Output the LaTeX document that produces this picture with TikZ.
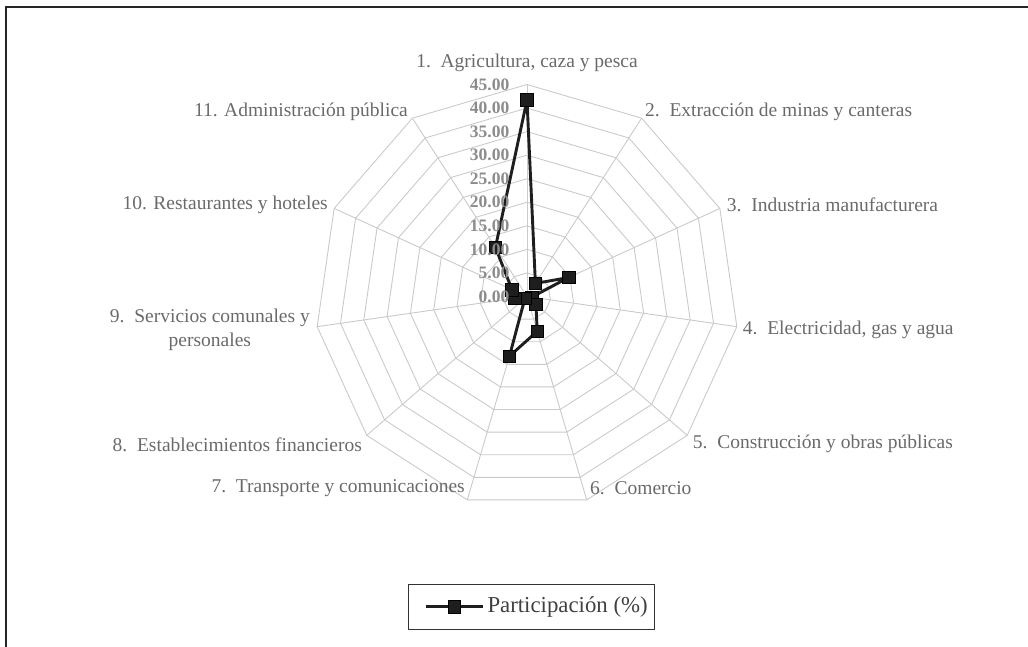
\documentclass[tikz,border=0pt]{standalone}
\usepackage{fontspec}
\setmainfont{Liberation Serif}
\usetikzlibrary{positioning}
\definecolor{gridgray}{HTML}{CACACA}
\definecolor{labelgray}{HTML}{6A6A6A}
\definecolor{tickgray}{HTML}{8C8C8C}
\definecolor{seriesblack}{HTML}{1E1E1E}
\tikzset{
    every node/.style={inner sep=0pt, text=labelgray,
    	font=\fontsize{19.5}{23.4}\selectfont}
}
\tikzset{
    gridline/.style={draw=gridgray, line width=0.9pt},
    ticklabel/.style={anchor=east, text=tickgray,
    	font=\fontsize{17.5}{20}\selectfont\bfseries},
    catlabel/.style={align=center},
    series/.style={draw=seriesblack, line width=2.9pt, line join=round},
    datapt/.style={rectangle, fill=seriesblack, draw=black, line width=0.6pt,
    	minimum size=12.5pt}
}

\begin{document}
\begin{tikzpicture}[x=1pt,y=-1pt]
	\useasboundingbox (0,0) rectangle (1028,647);
	% frame
	\draw[black!85, line width=1.4pt] (1040,7) -- (6,7) -- (6,660);

	\begin{scope}[shift={(527,296.5)}]
	% grid
	\foreach \r in {1,...,9}
		\draw[gridline] (-90:\r*23.556)
			\foreach \k in {1,...,10} { -- (\k*32.7273-90:\r*23.556) } -- cycle;
	\foreach \k in {0,...,10}
		\draw[gridline] (0,0) -- (\k*32.7273-90:212);

	% data
	\coordinate (c1) at (-90:41.7*4.7111);
	\coordinate (c2) at (1*32.7273-90:3.3*4.7111);
	\coordinate (c3) at (2*32.7273-90:9.7*4.7111);
	\coordinate (c4) at (3*32.7273-90:1.0*4.7111);
	\coordinate (c5) at (4*32.7273-90:2.5*4.7111);
	\coordinate (c6) at (5*32.7273-90:7.7*4.7111);
	\coordinate (c7) at (6*32.7273-90:13.2*4.7111);
	\coordinate (c8) at (7*32.7273-90:0.6*4.7111);
	\coordinate (c9) at (8*32.7273-90:2.6*4.7111);
	\coordinate (c10) at (9*32.7273-90:3.5*4.7111);
	\coordinate (c11) at (10*32.7273-90:12.4*4.7111);

	\draw[series] (c1) -- (c2) -- (c3) -- (c4) -- (c5) -- (c6) -- (c7)
		-- (c8) -- (c9) -- (c10) -- (c11) -- cycle;
	\foreach \k in {1,...,11}
		\node[datapt] (p\k) at (c\k) {};
	\end{scope}

	% axis values
	\foreach \k/\v in {0/0.00,1/5.00,2/10.00,3/15.00,4/20.00,5/25.00,
		6/30.00,7/35.00,8/40.00,9/45.00}
		\node[ticklabel] (t\k) at (509.5,296.5-\k*23.556) {\v};

	% categories
	\node[catlabel] (l1) at (527,63) {1.\ \ Agricultura, caza y pesca};
	\node[catlabel, anchor=west] (l2) at (645,112) {2.\ \ Extracción de minas y canteras};
	\node[catlabel, anchor=west] (l3) at (726.7,205) {3.\ \ Industria manufacturera};
	\node[catlabel, anchor=west] (l4) at (742.7,330) {4.\ \ Electricidad, gas y agua};
	\node[catlabel, anchor=west] (l5) at (692.7,444) {5.\ \ Construcción y obras públicas};
	\node[catlabel, anchor=west] (l6) at (590,488) {6.\ \ Comercio};
	\node[catlabel, anchor=east] (l7) at (465,488) {7.\ \ Transporte y comunicaciones};
	\node[catlabel, anchor=east] (l8) at (362,445) {8.\ \ Establecimientos financieros};
	\node[catlabel, anchor=east] (l9) at (310,330) {9.\ \ Servicios comunales y\\personales};
	\node[catlabel, anchor=east] (l10) at (328,205) {10. Restaurantes y hoteles};
	\node[catlabel, anchor=east] (l11) at (408,111.7) {11. Administración pública};

	% legend
	\node[draw=black!80, line width=0.9pt, minimum width=246pt,
		minimum height=44.7pt] (legend) at (531.3,606.7) {};
	\coordinate (lgA) at (426,606.7);
	\coordinate (lgB) at (482.7,606.7);
	\draw[series] (lgA) -- (lgB);
	\node[datapt] (lgpt) at (454.3,606.7) {};
	\node[anchor=west, text=black!75, font=\fontsize{22.8}{26}\selectfont]
		(lgtext) at (487.3,606.7) {Participación (\%)};
\end{tikzpicture}
\end{document}
